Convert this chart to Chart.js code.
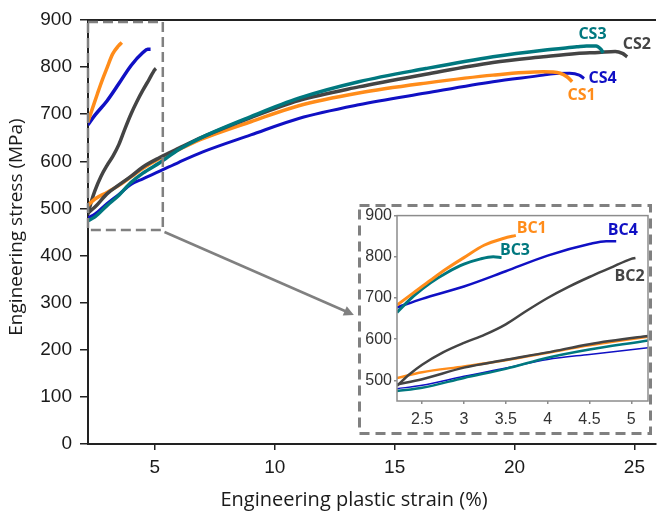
<!DOCTYPE html>
<html>
<head>
<meta charset="utf-8">
<script src="https://cdn.jsdelivr.net/npm/chart.js@4.4.0/dist/chart.umd.min.js"></script>
<style>
  html, body { margin: 0; padding: 0; background: #fff; }
  #wrap { position: relative; width: 657px; height: 515px; }
  #mainChart { position: absolute; left: 0; top: 0; }
  #insetChart { position: absolute; left: 358px; top: 204px; }
</style>
</head>
<body>
<div id="wrap">
  <canvas id="mainChart" width="657" height="515"></canvas>
  <canvas id="insetChart" width="294" height="231"></canvas>
</div>
<script>
// CS curves (long tests)
const cs1Strain = [2.2, 2.5, 3, 3.5, 4, 4.5, 5.2, 6, 7, 9, 11, 13.5, 16.3, 19.1, 21.2, 21.9, 22.2, 22.4];
const cs1Stress = [506, 520, 534, 549, 567, 585, 606, 625, 648, 684, 718, 745, 766, 783, 790, 787, 779, 769];

const cs2Strain = [2.2, 2.5, 3, 3.5, 4, 4.5, 5.2, 6, 7, 9, 11, 13.5, 16.3, 19.1, 21.2, 22.6, 23.5, 24.2, 24.5, 24.7];
const cs2Stress = [490, 503, 531, 550, 568, 588, 608, 628, 652, 693, 729, 758, 785, 810, 822, 829, 831, 833, 829, 822];

const cs3Strain = [2.2, 2.5, 3, 3.5, 4, 4.5, 5.2, 6, 7, 9, 11, 13.5, 16.3, 19.1, 21.2, 22.6, 23.0, 23.4, 23.6, 23.7];
const cs3Stress = [474, 482, 506, 528, 555, 575, 597, 625, 652, 695, 734, 769, 797, 822, 836, 843, 845, 845, 838, 830];

const cs4Strain = [2.2, 2.5, 3, 3.5, 4, 4.5, 5.2, 6, 7, 9, 11, 13.5, 16.3, 19.1, 21.2, 21.6, 22.3, 22.7, 22.9];
const cs4Stress = [480, 488, 510, 530, 551, 563, 579, 598, 620, 656, 691, 720, 745, 769, 783, 786, 787, 783, 776];

// BC curves (short tests)
const bc1Strain = [2.2, 2.4, 2.6, 2.8, 3.0, 3.24, 3.48, 3.62];
const bc1Stress = [683, 713, 743, 772, 798, 828, 845, 852];

const bc2Strain = [2.2, 2.35, 2.5, 2.75, 3.0, 3.25, 3.5, 3.75, 4.0, 4.25, 4.5, 4.75, 5.0, 5.05];
const bc2Stress = [487, 515, 538, 568, 591, 611, 636, 669, 700, 727, 751, 773, 795, 797];

const bc3Strain = [2.2, 2.4, 2.6, 2.8, 3.0, 3.2, 3.35, 3.45];
const bc3Stress = [665, 705, 737, 762, 782, 795, 800, 798];

const bc4Strain = [2.2, 2.5, 3.0, 3.5, 4.0, 4.5, 4.7, 4.82];
const bc4Stress = [677, 698, 728, 765, 803, 831, 838, 838];

const mainXTicks = [5, 10, 15, 20, 25];
const mainYTicks = [0, 100, 200, 300, 400, 500, 600, 700, 800, 900];
const insetXTicks = [2.5, 3, 3.5, 4, 4.5, 5];
const insetYTicks = [500, 600, 700, 800, 900];

const ORANGE = "#ff8c1a";
const GRAY = "#444444";
const TEAL = "#00787f";
const BLUE = "#1010c4";
const BOX = "#808080";

function toPoints(xs, ys) {
  return xs.map((x, i) => ({ x: x, y: ys[i] }));
}

function serie(label, xs, ys, color, width) {
  return {
    label: label,
    data: toPoints(xs, ys),
    borderColor: color,
    backgroundColor: color,
    borderWidth: width,
    pointRadius: 0,
    fill: false,
    cubicInterpolationMode: "monotone",
  };
}

function axisOpts(min, max, ticks, tickLen, pad, size, color) {
  return {
    type: "linear",
    min: min,
    max: max,
    afterBuildTicks: (s) => { s.ticks = ticks.map((v) => ({ value: v })); },
    grid: { drawOnChartArea: false, tickLength: tickLen, color: color, lineWidth: 1.5 },
    border: { color: color, width: 2 },
    ticks: {
      padding: pad,
      maxRotation: 0,
      color: "#1a1a1a",
      font: { family: "'Liberation Sans', Arial", size: size },
      callback: (v) => String(v),
    },
  };
}

function drawText(ctx, txt, x, y, color, font) {
  ctx.save();
  ctx.font = font;
  ctx.fillStyle = color;
  ctx.textAlign = "center";
  ctx.textBaseline = "middle";
  ctx.fillText(txt, x, y);
  ctx.restore();
}

// labels next to curve ends, in data units
const mainLabels = [
  { text: "CS3", x: 23.25, y: 870, color: TEAL },
  { text: "CS2", x: 25.1, y: 849, color: GRAY },
  { text: "CS4", x: 23.67, y: 777, color: BLUE },
  { text: "CS1", x: 22.8, y: 739, color: ORANGE },
];
const insetLabels = [
  { text: "BC1", x: 3.81, y: 869, color: ORANGE },
  { text: "BC3", x: 3.61, y: 816, color: TEAL },
  { text: "BC4", x: 4.9, y: 864, color: BLUE },
  { text: "BC2", x: 4.98, y: 753, color: GRAY },
];

const mainDecor = {
  id: "mainDecor",
  afterDraw(chart) {
    const ctx = chart.ctx;
    const xs = chart.scales.x;
    const ys = chart.scales.y;
    const area = chart.chartArea;

    // top frame line
    ctx.save();
    ctx.strokeStyle = "#222";
    ctx.lineWidth = 2;
    ctx.beginPath();
    ctx.moveTo(area.left, area.top);
    ctx.lineTo(area.right, area.top);
    ctx.stroke();

    // dashed zoom box
    const bx0 = xs.getPixelForValue(2.21);
    const bx1 = xs.getPixelForValue(5.33);
    const by0 = ys.getPixelForValue(896);
    const by1 = ys.getPixelForValue(454);
    ctx.strokeStyle = BOX;
    ctx.lineWidth = 2.5;
    ctx.setLineDash([10, 5]);
    ctx.strokeRect(bx0, by0, bx1 - bx0, by1 - by0);
    ctx.setLineDash([]);

    // arrow to inset
    const ax0 = xs.getPixelForValue(5.4);
    const ay0 = ys.getPixelForValue(450);
    const ax1 = xs.getPixelForValue(13.3);
    const ay1 = ys.getPixelForValue(274);
    const ang = Math.atan2(ay1 - ay0, ax1 - ax0);
    ctx.strokeStyle = BOX;
    ctx.fillStyle = BOX;
    ctx.lineWidth = 2.5;
    ctx.beginPath();
    ctx.moveTo(ax0, ay0);
    ctx.lineTo(ax1 - 6 * Math.cos(ang), ay1 - 6 * Math.sin(ang));
    ctx.stroke();
    ctx.beginPath();
    ctx.moveTo(ax1, ay1);
    ctx.lineTo(ax1 - 10 * Math.cos(ang) + 5 * Math.sin(ang), ay1 - 10 * Math.sin(ang) - 5 * Math.cos(ang));
    ctx.lineTo(ax1 - 10 * Math.cos(ang) - 5 * Math.sin(ang), ay1 - 10 * Math.sin(ang) + 5 * Math.cos(ang));
    ctx.closePath();
    ctx.fill();
    ctx.restore();

    mainLabels.forEach((l) => {
      drawText(ctx, l.text, xs.getPixelForValue(l.x), ys.getPixelForValue(l.y), l.color, "bold 16px 'Open Sans'");
    });

    // axis titles
    drawText(ctx, "Engineering plastic strain (%)", (area.left + area.right) / 2 - 18, area.bottom + 56, "#1a1a1a", "20px 'Open Sans'");
    ctx.save();
    ctx.translate(17, (area.top + area.bottom) / 2 - 5);
    ctx.rotate(-Math.PI / 2);
    drawText(ctx, "Engineering stress (MPa)", 0, 0, "#1a1a1a", "19px 'Open Sans'");
    ctx.restore();
  },
};

const insetDecor = {
  id: "insetDecor",
  afterDraw(chart) {
    const ctx = chart.ctx;
    const xs = chart.scales.x;
    const ys = chart.scales.y;
    const area = chart.chartArea;

    ctx.save();
    ctx.strokeStyle = "#8c8c8c";
    ctx.lineWidth = 1.5;
    ctx.strokeRect(area.left, area.top, area.right - area.left, area.bottom - area.top);

    // outer dashed frame
    ctx.strokeStyle = BOX;
    ctx.lineWidth = 3;
    ctx.setLineDash([10, 6]);
    ctx.strokeRect(1.5, 1.5, chart.width - 3, chart.height - 3);
    ctx.restore();

    insetLabels.forEach((l) => {
      drawText(ctx, l.text, xs.getPixelForValue(l.x), ys.getPixelForValue(l.y), l.color, "bold 16px 'Open Sans'");
    });
  },
};

document.addEventListener("DOMContentLoaded", function () {
  const mainX = axisOpts(2.21, 25.9, mainXTicks, 6, 6, 19, "#222");
  mainX.afterFit = (s) => { s.height = 71; };
  const mainY = axisOpts(0, 900, mainYTicks, 8, 8, 19, "#222");
  mainY.afterFit = (s) => { s.width = 88; };

  // BC3 is hidden in the main panel, only shown in the inset
  new Chart(document.getElementById("mainChart"), {
    type: "line",
    data: {
      datasets: [
        serie("CS3", cs3Strain, cs3Stress, TEAL, 3.5),
        serie("CS2", cs2Strain, cs2Stress, GRAY, 3.5),
        serie("CS1", cs1Strain, cs1Stress, ORANGE, 3.5),
        serie("CS4", cs4Strain, cs4Stress, BLUE, 3),
        serie("BC1", bc1Strain, bc1Stress, ORANGE, 3.5),
        serie("BC4", bc4Strain, bc4Stress, BLUE, 3.5),
        serie("BC2", bc2Strain, bc2Stress, GRAY, 3.5),
      ],
    },
    options: {
      responsive: false,
      animation: false,
      layout: { padding: { top: 20, right: 1, left: 0, bottom: 0 } },
      plugins: { legend: { display: false }, tooltip: { enabled: false } },
      scales: { x: mainX, y: mainY },
    },
    plugins: [mainDecor],
  });

  const insetX = axisOpts(2.2, 5.2, insetXTicks, 3, 6, 16, "#8c8c8c");
  insetX.afterFit = (s) => { s.height = 34; };
  insetX.border.display = false;
  insetX.ticks.color = "#333";
  const insetY = axisOpts(450, 900, insetYTicks, 3, 2, 16, "#8c8c8c");
  insetY.afterFit = (s) => { s.width = 39; };
  insetY.border.display = false;
  insetY.ticks.color = "#333";

  new Chart(document.getElementById("insetChart"), {
    type: "line",
    data: {
      datasets: [
        serie("BC1", bc1Strain, bc1Stress, ORANGE, 3),
        serie("BC3", bc3Strain, bc3Stress, TEAL, 3),
        serie("BC4", bc4Strain, bc4Stress, BLUE, 2.5),
        serie("BC2", bc2Strain, bc2Stress, GRAY, 2.5),
        serie("CS2", cs2Strain, cs2Stress, GRAY, 2.5),
        serie("CS1", cs1Strain, cs1Stress, ORANGE, 2.5),
        serie("CS3", cs3Strain, cs3Stress, TEAL, 2.5),
        serie("CS4", cs4Strain, cs4Stress, BLUE, 1.5),
      ],
    },
    options: {
      responsive: false,
      animation: false,
      layout: { padding: { top: 11, right: 4, left: 0, bottom: 0 } },
      plugins: { legend: { display: false }, tooltip: { enabled: false } },
      scales: { x: insetX, y: insetY },
    },
    plugins: [insetDecor],
  });
});
</script>
</body>
</html>
